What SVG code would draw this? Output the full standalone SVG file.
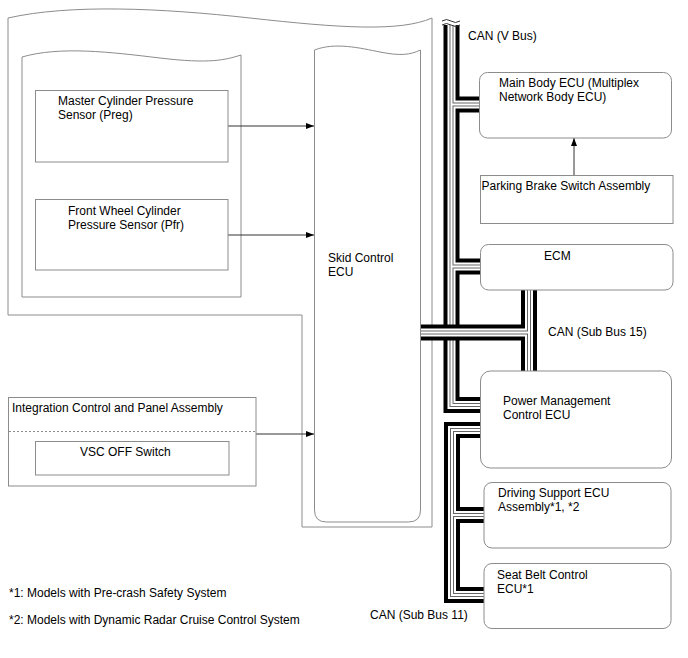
<svg xmlns="http://www.w3.org/2000/svg" xmlns:xlink="http://www.w3.org/1999/xlink" width="688" height="658" viewBox="0 0 688 658">
<style>
.frame{fill:none;stroke:#8c8c8c;stroke-width:1}
.box{fill:#fff;stroke:#8c8c8c;stroke-width:1}
.t{font-family:"Liberation Sans",Arial,sans-serif;font-size:12px;fill:#000}
.arr{fill:none;stroke:#333;stroke-width:1;marker-end:url(#ah)}
.l1{fill:none;stroke:#000;stroke-width:16;stroke-linejoin:miter}
.l2{fill:none;stroke:#fff;stroke-width:8;stroke-linejoin:miter}
.l3{fill:none;stroke:#666;stroke-width:4;stroke-linejoin:miter}
.l4{fill:none;stroke:#fff;stroke-width:2;stroke-linejoin:miter}
</style>
<defs>
<marker id="ah" markerUnits="userSpaceOnUse" markerWidth="8" markerHeight="6" refX="8" refY="3" orient="auto">
<path d="M0,0 L8,3 L0,6 z" fill="#000"/>
</marker>
<g id="busA">
<path d="M451.5 25 V405 H481"/>
<path d="M451.5 104.5 H479.5"/>
<path d="M451.5 266.5 H481"/>
</g>
<g id="busB">
<path d="M529 290 V371"/>
<path d="M420 332.5 H529"/>
</g>
<g id="busC">
<path d="M481 430 H452 V595 H484"/>
<path d="M452 515 H484"/>
</g>
</defs>
<rect width="688" height="658" fill="#fff"/>
<g id="outer-frame">
<path class="frame" d="M8 18 C70 4,160 8,250 18 S400 32,432 18 V527 H302 V315 H8 Z"/>
</g>
<g id="inner-frame">
<path class="frame" d="M22 57 C60 46,110 52,160 58 S225 60,241 55 V297 H22 Z"/>
</g>
<g id="connectors">
<use xlink:href="#busA" class="l1"/>
<use xlink:href="#busA" class="l2"/>
<use xlink:href="#busA" class="l3"/>
<use xlink:href="#busA" class="l4"/>
<use xlink:href="#busB" class="l1"/>
<use xlink:href="#busB" class="l2"/>
<use xlink:href="#busB" class="l3"/>
<use xlink:href="#busB" class="l4"/>
<use xlink:href="#busC" class="l1"/>
<use xlink:href="#busC" class="l2"/>
<use xlink:href="#busC" class="l3"/>
<use xlink:href="#busC" class="l4"/>
<path d="M442 21 q4.5 -3 9 0 t9 0 M442 25 q4.5 -3 9 0 t9 0" fill="none" stroke="#333" stroke-width="1"/>
<line class="arr" x1="228" y1="126" x2="314" y2="126"/>
<line class="arr" x1="228" y1="235" x2="314" y2="235"/>
<line class="arr" x1="256" y1="434" x2="314" y2="434"/>
<line class="arr" x1="574" y1="175.5" x2="574" y2="138"/>
</g>
<g id="master-cylinder-sensor">
<rect class="box" x="35.5" y="90.5" width="192.5" height="71.5"/>
<text class="t" x="58" y="105">Master Cylinder Pressure</text>
<text class="t" x="58" y="119">Sensor (Preg)</text>
</g>
<g id="front-wheel-sensor">
<rect class="box" x="35.5" y="199.5" width="192.5" height="70.5"/>
<text class="t" x="68" y="215">Front Wheel Cylinder</text>
<text class="t" x="68" y="229">Pressure Sensor (Pfr)</text>
</g>
<g id="skid-control-ecu">
<path class="box" d="M314.5 50 C335 42,360 48,380 52 S410 55,420.5 50 V510 Q420.5 522 408.5 522 H326.5 Q314.5 522 314.5 510 Z"/>
<text class="t" x="328" y="262">Skid Control</text>
<text class="t" x="328" y="276">ECU</text>
</g>
<g id="integration-panel">
<rect class="frame" x="8.5" y="397.5" width="247.5" height="88.5"/>
<line x1="9" y1="431.5" x2="255.5" y2="431.5" stroke="#8c8c8c" stroke-width="1" stroke-dasharray="2,2"/>
<text class="t" x="12" y="412">Integration Control and Panel Assembly</text>
</g>
<g id="vsc-off-switch">
<rect class="box" x="35.5" y="441.5" width="193.5" height="33.5"/>
<text class="t" x="80" y="456">VSC OFF Switch</text>
</g>
<g id="main-body-ecu">
<rect class="box" x="479.5" y="72.5" width="192" height="65.5" rx="8"/>
<text class="t" x="499" y="87">Main Body ECU (Multiplex</text>
<text class="t" x="499" y="101">Network Body ECU)</text>
</g>
<g id="parking-brake-switch">
<rect class="box" x="480.5" y="175.5" width="192.5" height="48"/>
<text class="t" x="481.5" y="190">Parking Brake Switch Assembly</text>
</g>
<g id="ecm">
<rect class="box" x="480.5" y="244.5" width="192.5" height="45.5" rx="8"/>
<text class="t" x="544" y="260">ECM</text>
</g>
<g id="power-management-ecu">
<rect class="box" x="480.5" y="371" width="191" height="97" rx="10"/>
<text class="t" x="503" y="405">Power Management</text>
<text class="t" x="503" y="419">Control ECU</text>
</g>
<g id="driving-support-ecu">
<rect class="box" x="484" y="482.5" width="187" height="65.5" rx="8"/>
<text class="t" x="498" y="497">Driving Support ECU</text>
<text class="t" x="498" y="511">Assembly*1, *2</text>
</g>
<g id="seat-belt-ecu">
<rect class="box" x="484" y="563.5" width="187" height="65" rx="8"/>
<text class="t" x="497" y="579">Seat Belt Control</text>
<text class="t" x="497" y="593">ECU*1</text>
</g>
<g id="labels">
<text class="t" x="468" y="40">CAN (V Bus)</text>
<text class="t" x="548" y="336">CAN (Sub Bus 15)</text>
<text class="t" x="370" y="619">CAN (Sub Bus 11)</text>
<text class="t" x="9" y="597">*1: Models with Pre-crash Safety System</text>
<text class="t" x="9" y="624">*2: Models with Dynamic Radar Cruise Control System</text>
</g>
</svg>
